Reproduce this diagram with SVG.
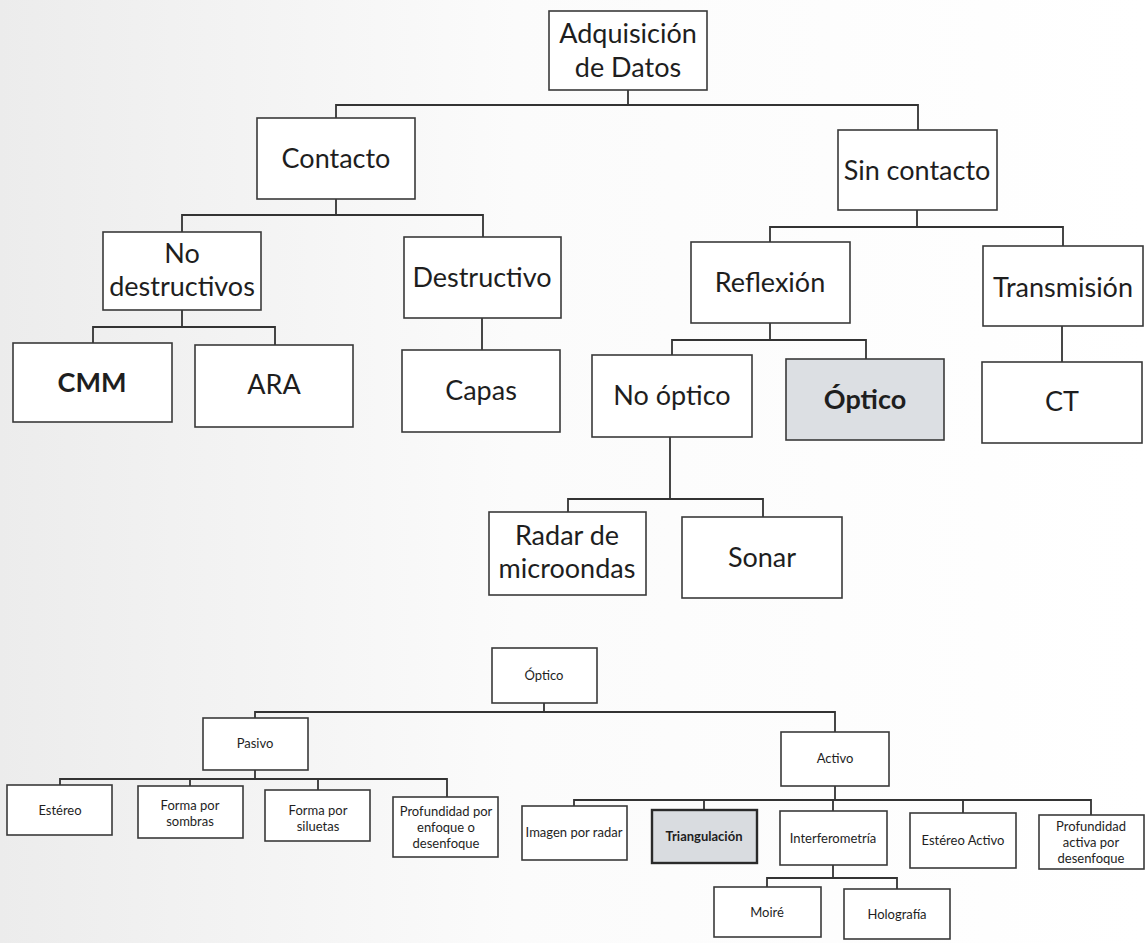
<svg xmlns="http://www.w3.org/2000/svg" width="1145" height="943" viewBox="0 0 1145 943">
<defs>
<linearGradient id="bg" x1="0" y1="0" x2="1" y2="0">
<stop offset="0" stop-color="#ececec"/>
<stop offset="0.45" stop-color="#fbfbfb"/>
<stop offset="1" stop-color="#ffffff"/>
</linearGradient>
<style>
.box{fill:#ffffff;stroke:#3a3a3a;stroke-width:1.6}
.hl{fill:#dcdfe3;stroke:#3a3a3a;stroke-width:1.6}
.hl2{fill:#d9dce0;stroke:#2a2a2a;stroke-width:2.4}
.big{font-family:Lato,"Open Sans","Liberation Sans",sans-serif;font-size:27px;fill:#1e1e1e;text-anchor:middle}
.sm{font-family:Lato,"Open Sans","Liberation Sans",sans-serif;font-size:13px;fill:#1e1e1e;text-anchor:middle}
.b{font-weight:bold}
.con{fill:none;stroke:#333333;stroke-width:1.8}
</style>
</defs>
<rect x="0" y="0" width="1145" height="943" fill="url(#bg)"/>
<g id="connectors">
<path class="con" d="M628,90 V105 M336,118 V105 H918 V130"/>
<path class="con" d="M336,199 V215 M182,232 V215 H483 V237"/>
<path class="con" d="M182,310 V327 M93,343 V327 H275 V345"/>
<path class="con" d="M482,318 V350"/>
<path class="con" d="M917,210 V227 M770,242 V227 H1063 V246"/>
<path class="con" d="M770,323 V340 M672,355 V340 H866 V359"/>
<path class="con" d="M1062,326 V362"/>
<path class="con" d="M670,437 V499 M568,512 V499 H763 V517"/>
<path class="con" d="M544,703 V712 M255,718 V712 H835 V732"/>
<path class="con" d="M255,770 V779 M60,785 V779 H447 V797 M190,779 V786 M318,779 V790"/>
<path class="con" d="M835,786 V800 M574,806 V800 H1091 V815 M704,800 V810 M833,800 V811 M963,800 V813"/>
<path class="con" d="M833,865 V878 M767,887 V878 H897 V889"/>
</g>
<g id="n-adquisicion"><rect class="box" x="549" y="11" width="158" height="79"/><text class="big" x="628" y="43">Adquisición</text><text class="big" x="628" y="77">de Datos</text></g>
<g id="n-contacto"><rect class="box" x="257" y="118" width="158" height="81"/><text class="big" x="336" y="168">Contacto</text></g>
<g id="n-sincontacto"><rect class="box" x="838" y="130" width="159" height="80"/><text class="big" x="917" y="180">Sin contacto</text></g>
<g id="n-nodestructivos"><rect class="box" x="103" y="232" width="158" height="78"/><text class="big" x="182" y="263">No</text><text class="big" x="182" y="296">destructivos</text></g>
<g id="n-destructivo"><rect class="box" x="404" y="237" width="157" height="81"/><text class="big" x="482" y="287">Destructivo</text></g>
<g id="n-cmm"><rect class="box" x="13" y="343" width="159" height="79"/><text class="big b" x="92" y="392">CMM</text></g>
<g id="n-ara"><rect class="box" x="195" y="345" width="158" height="82"/><text class="big" x="274" y="394">ARA</text></g>
<g id="n-capas"><rect class="box" x="402" y="350" width="158" height="82"/><text class="big" x="481" y="400">Capas</text></g>
<g id="n-reflexion"><rect class="box" x="691" y="242" width="159" height="81"/><text class="big" x="770" y="292">Reflexión</text></g>
<g id="n-transmision"><rect class="box" x="983" y="246" width="160" height="80"/><text class="big" x="1063" y="297">Transmisión</text></g>
<g id="n-nooptico"><rect class="box" x="592" y="355" width="160" height="82"/><text class="big" x="672" y="405">No óptico</text></g>
<g id="n-optico"><rect class="hl" x="786" y="359" width="158" height="81"/><text class="big b" x="865" y="409">Óptico</text></g>
<g id="n-ct"><rect class="box" x="982" y="362" width="160" height="81"/><text class="big" x="1062" y="411">CT</text></g>
<g id="n-radar"><rect class="box" x="489" y="512" width="157" height="83"/><text class="big" x="567" y="545">Radar de</text><text class="big" x="567" y="578">microondas</text></g>
<g id="n-sonar"><rect class="box" x="682" y="517" width="160" height="81"/><text class="big" x="762" y="567">Sonar</text></g>
<g id="n-optico2"><rect class="box" x="492" y="648" width="105" height="55"/><text class="sm" x="544" y="680">Óptico</text></g>
<g id="n-pasivo"><rect class="box" x="203" y="718" width="105" height="52"/><text class="sm" x="255" y="748">Pasivo</text></g>
<g id="n-activo"><rect class="box" x="781" y="732" width="108" height="54"/><text class="sm" x="835" y="763">Activo</text></g>
<g id="n-estereo"><rect class="box" x="7" y="785" width="105" height="50"/><text class="sm" x="60" y="815">Estéreo</text></g>
<g id="n-sombras"><rect class="box" x="138" y="786" width="105" height="52"/><text class="sm" x="190" y="810">Forma por</text><text class="sm" x="190" y="826">sombras</text></g>
<g id="n-siluetas"><rect class="box" x="265" y="790" width="105" height="51"/><text class="sm" x="318" y="815">Forma por</text><text class="sm" x="318" y="831">siluetas</text></g>
<g id="n-profpor"><rect class="box" x="393" y="797" width="105" height="60"/><text class="sm" x="446" y="816">Profundidad por</text><text class="sm" x="446" y="832">enfoque o</text><text class="sm" x="446" y="848">desenfoque</text></g>
<g id="n-imagen"><rect class="box" x="522" y="806" width="105" height="54"/><text class="sm" x="574" y="837">Imagen por radar</text></g>
<g id="n-triangulacion"><rect class="hl2" x="652" y="810" width="105" height="53"/><text class="sm b" x="704" y="841">Triangulación</text></g>
<g id="n-interferometria"><rect class="box" x="780" y="811" width="107" height="54"/><text class="sm" x="833" y="843">Interferometría</text></g>
<g id="n-estereoactivo"><rect class="box" x="910" y="813" width="106" height="55"/><text class="sm" x="963" y="845">Estéreo Activo</text></g>
<g id="n-profactiva"><rect class="box" x="1039" y="815" width="105" height="54"/><text class="sm" x="1091" y="831">Profundidad</text><text class="sm" x="1091" y="847">activa por</text><text class="sm" x="1091" y="863">desenfoque</text></g>
<g id="n-moire"><rect class="box" x="714" y="887" width="107" height="50"/><text class="sm" x="767" y="917">Moiré</text></g>
<g id="n-holografia"><rect class="box" x="844" y="889" width="106" height="50"/><text class="sm" x="897" y="919">Holografía</text></g>
</svg>
